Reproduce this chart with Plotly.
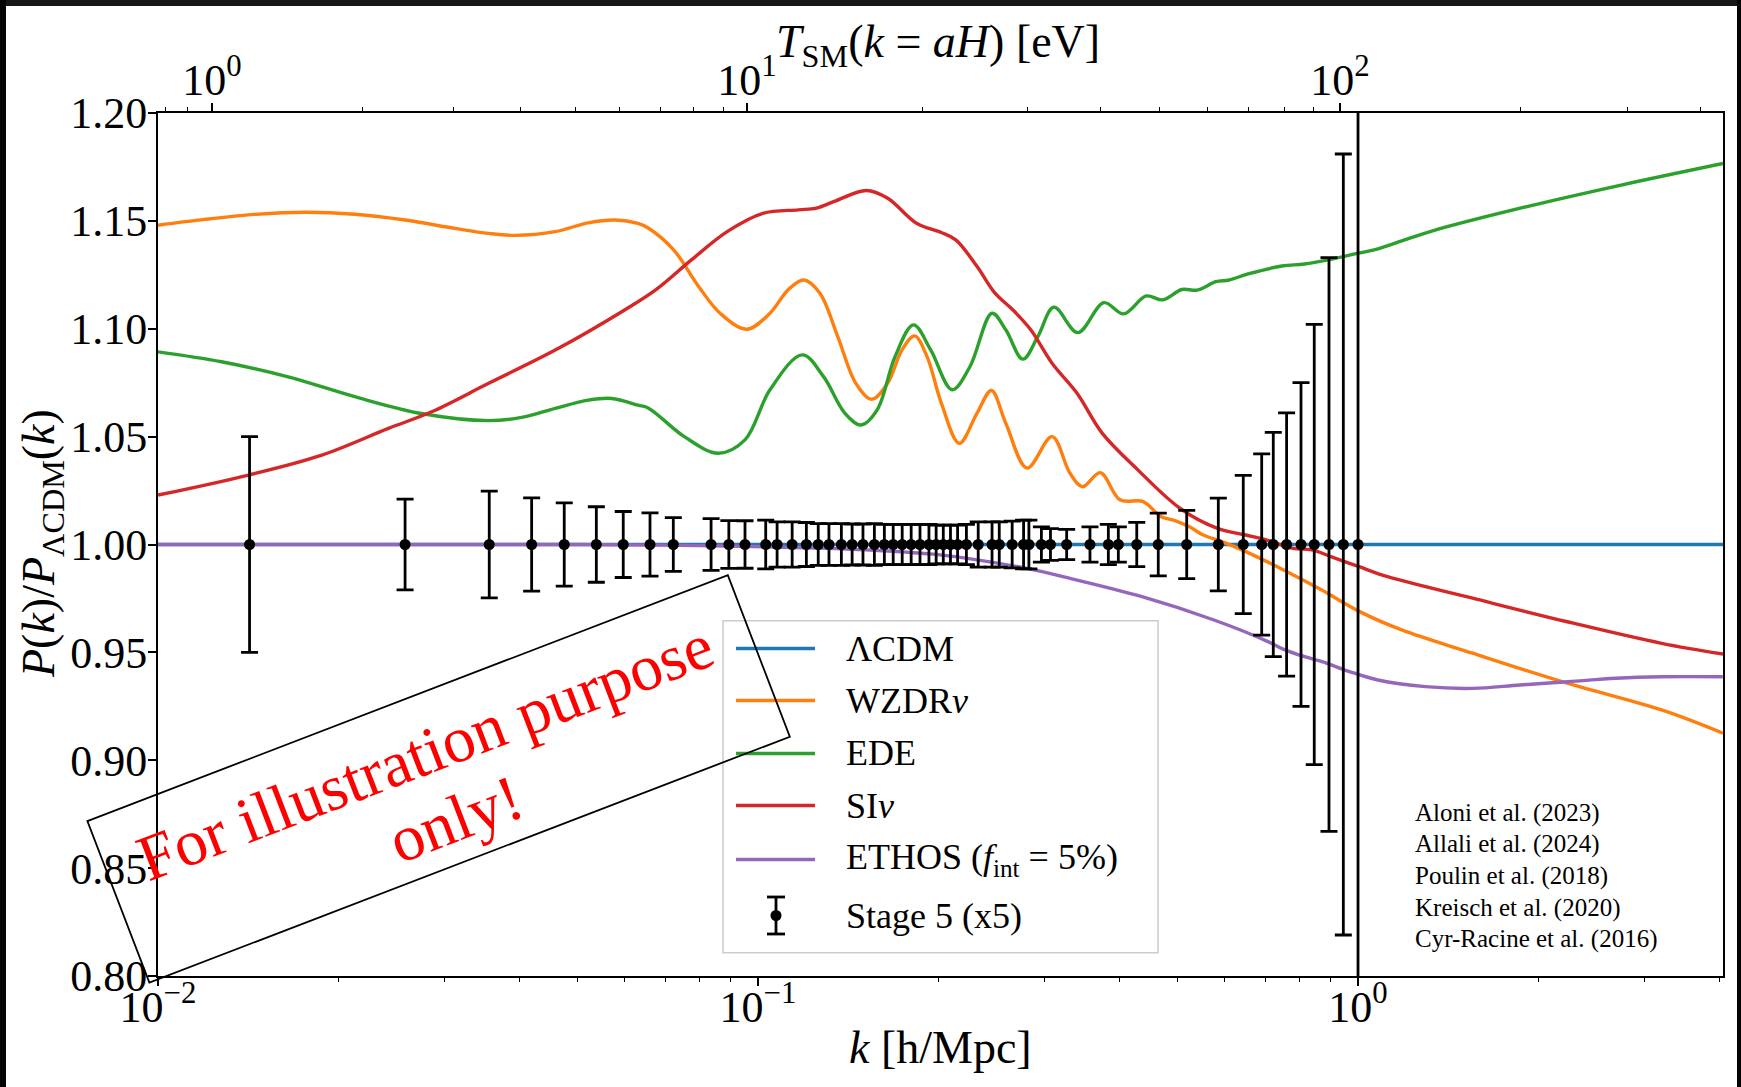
import math
import plotly.graph_objects as go

FONT = "Liberation Serif"

# ---------------- data ----------------
k_lcdm = [0.01, 4.06]
r_lcdm = [1.0, 1.0]

k_wzdr = [0.0100, 0.01197, 0.01452, 0.01758, 0.02128, 0.02582, 0.03126, 0.03556, 0.03936,
          0.04592, 0.05212, 0.05781, 0.0631, 0.0657, 0.07233, 0.07962, 0.08646, 0.09579,
          0.1047, 0.1122, 0.1192, 0.1268, 0.1358, 0.1455, 0.1547, 0.1645, 0.1738, 0.1824,
          0.1913, 0.2021, 0.2165, 0.2318, 0.2449, 0.2588, 0.2809, 0.3091, 0.3311, 0.3474,
          0.3720, 0.4012, 0.4385, 0.4689, 0.4951, 0.5229, 0.5521, 0.5934, 0.6500, 0.7515,
          0.8687, 1.0044, 1.1825, 1.5524, 2.2315, 3.2063, 4.0588]
r_wzdr = [1.148, 1.1507, 1.153, 1.154, 1.1531, 1.1504, 1.1465, 1.1442, 1.1433,
          1.145, 1.1491, 1.1504, 1.1488, 1.1466, 1.1366, 1.1196, 1.1072, 1.0998,
          1.1072, 1.118, 1.1226, 1.1165, 1.0964, 1.0748, 1.0673, 1.0748, 1.0902, 1.0967,
          1.0871, 1.0655, 1.0469, 1.0609, 1.0714, 1.0562, 1.0354, 1.050, 1.033, 1.0268,
          1.0333, 1.0207, 1.0199, 1.013, 1.0111, 1.0083, 1.0044, 1.0013, 0.9967, 0.9882,
          0.979, 0.969, 0.9604, 0.9496, 0.9357, 0.9233, 0.9125]

k_ede = [0.0100, 0.01276, 0.01648, 0.02128, 0.02748, 0.03556, 0.04036, 0.04592, 0.05212,
         0.05702, 0.0631, 0.0657, 0.07535, 0.08585, 0.09512, 0.1047, 0.1185, 0.1286,
         0.1396, 0.1485, 0.1580, 0.1692, 0.1816, 0.1940, 0.2107, 0.2256, 0.2455, 0.2588,
         0.2763, 0.2927, 0.3113, 0.3412, 0.3771, 0.4067, 0.4436, 0.4727, 0.5087, 0.5393,
         0.5797, 0.6098, 0.6557, 0.7467, 0.8145, 0.9013, 0.9972, 1.0720, 1.2034, 1.3318,
         1.9120, 2.7454, 4.0570]
r_ede = [1.0893, 1.0847, 1.0777, 1.0685, 1.0607, 1.0574, 1.0589, 1.0631, 1.0669,
         1.0677, 1.0646, 1.0632, 1.050, 1.0423, 1.0485, 1.0717, 1.0879, 1.0778,
         1.0608, 1.0554, 1.0624, 1.0871, 1.1018, 1.0902, 1.0717, 1.0825, 1.1072, 1.0995,
         1.0859, 1.0964, 1.110, 1.0982, 1.1121, 1.1069, 1.1152, 1.1134, 1.1182, 1.1179,
         1.1218, 1.1226, 1.1254, 1.1291, 1.130, 1.1322, 1.1349, 1.1368, 1.1414, 1.1454,
         1.1566, 1.1666, 1.1766]

k_sinu = [0.0100, 0.01416, 0.01875, 0.02421, 0.02858, 0.03556, 0.04592, 0.05929, 0.06753,
          0.07745, 0.08883, 0.1019, 0.1168, 0.1251, 0.1340, 0.1516, 0.1645, 0.1837,
          0.2021, 0.2136, 0.2318, 0.2483, 0.2660, 0.2848, 0.3091, 0.3402, 0.3746, 0.4296,
          0.5049, 0.5830, 0.6500, 0.6990, 0.7788, 0.8379, 0.9009, 1.0044, 1.1201, 1.5524,
          2.2315, 3.2063, 4.0588]
r_sinu = [1.0229, 1.0322, 1.0414, 1.0538, 1.0615, 1.0747, 1.0901, 1.1079, 1.118,
          1.1319, 1.145, 1.1535, 1.1551, 1.1559, 1.159, 1.1641, 1.1605, 1.1489,
          1.1446, 1.1412, 1.1288, 1.1165, 1.1087, 1.0995, 1.084, 1.0701, 1.0516, 1.0346,
          1.0168, 1.0075, 1.0044, 1.0024, 0.9982, 0.9975, 0.9944, 0.9897, 0.9851, 0.9751,
          0.9642, 0.9542, 0.9492]

k_ethos = [0.0100, 0.0501, 0.0794, 0.1259, 0.1585, 0.1995, 0.2317, 0.2818, 0.3311, 0.4365,
           0.5754, 0.7079, 0.7500, 0.7943, 0.8710, 0.9683, 1.0789, 1.2942, 1.5524, 1.8621,
           2.2387, 2.6915, 3.2063, 4.0551]
r_ethos = [1.0, 1.0, 0.9995, 0.9983, 0.9972, 0.9953, 0.9929, 0.9888, 0.9843, 0.9758,
           0.965, 0.955, 0.9515, 0.949, 0.9457, 0.9411, 0.9372, 0.9341, 0.9333, 0.9349,
           0.9364, 0.938, 0.9387, 0.9387]

k_stage5 = [0.01421, 0.02581, 0.03565, 0.04195, 0.04754, 0.05377, 0.05962, 0.06607, 0.07225,
            0.08352, 0.08941, 0.09513, 0.1030, 0.1076, 0.1140, 0.1204, 0.1260, 0.1313,
            0.1377, 0.1435, 0.1496, 0.1563, 0.1624, 0.1680, 0.1739, 0.1800, 0.1862, 0.1927,
            0.1981, 0.2036, 0.2093, 0.2151, 0.2225, 0.2328, 0.2455, 0.2524, 0.2652, 0.2771,
            0.2828, 0.2967, 0.3072, 0.3269, 0.3575, 0.3836, 0.3986, 0.4278, 0.4646, 0.5182,
            0.5850, 0.6438, 0.6910, 0.7224, 0.7603, 0.8035, 0.8454, 0.8946, 0.9452, 1.0]
err_stage5 = [0.050, 0.021, 0.0247, 0.0216, 0.0193, 0.0175, 0.0153, 0.0147, 0.0125,
              0.0120, 0.0111, 0.0110, 0.0113, 0.0105, 0.0105, 0.0102, 0.0097, 0.0097,
              0.0097, 0.0095, 0.0095, 0.0097, 0.0093, 0.0093, 0.0093, 0.0093, 0.0093, 0.0093,
              0.0090, 0.0090, 0.0090, 0.0090, 0.0093, 0.0105, 0.0105, 0.0105, 0.0108, 0.0113,
              0.0113, 0.0082, 0.0074, 0.0070, 0.0082, 0.0093, 0.0082, 0.0103, 0.0145, 0.0158,
              0.0215, 0.0320, 0.0420, 0.0520, 0.0610, 0.0750, 0.1020, 0.1330, 0.1810, 0.3500]
r_stage5 = [1.0] * len(k_stage5)

# bottom axis ticks
k_major_ticks = [0.01, 0.1, 1.0]
k_major_text = ["10<sup>\u22122</sup>", "10<sup>\u22121</sup>", "10<sup>0</sup>"]
k_minor_ticks = [0.02, 0.03, 0.04, 0.05, 0.06, 0.07, 0.08, 0.09,
                 0.2, 0.3, 0.4, 0.5, 0.6, 0.7, 0.8, 0.9, 2.0, 3.0, 4.0]

# top axis: T_SM values and the k where each falls
T_major = [1, 10, 100]
T_major_k = [0.0123, 0.09587, 0.9333]
T_major_text = ["10<sup>0</sup>", "10<sup>1</sup>", "10<sup>2</sup>"]
T_minor = [0.8, 0.9, 2, 3, 4, 5, 6, 7, 8, 9, 20, 30, 40, 50, 60, 70, 80, 90, 200, 300, 400]
T_minor_k = [0.0103, 0.0112, 0.02188, 0.03114, 0.04027, 0.04955, 0.05888, 0.06866, 0.0782,
             0.08776, 0.1877, 0.2808, 0.3729, 0.4677, 0.5623, 0.6556, 0.7554, 0.8414,
             1.869, 2.808, 3.729]

y_ticks = [0.80, 0.85, 0.90, 0.95, 1.00, 1.05, 1.10, 1.15, 1.20]

series_names = ["\u039bCDM", "WZDR<i>\u03bd</i>", "EDE", "SI<i>\u03bd</i>",
                "ETHOS (<i>f</i><sub>int</sub> = 5%)"]
series_colors = ["#1f77b4", "#ff7f0e", "#2ca02c", "#d62728", "#9467bd"]
stage5_name = "Stage 5 (x5)"

x_title = "<i>k</i> [h/Mpc]"
x2_title = "<i>T</i><sub>SM</sub>(<i>k</i> = <i>aH</i>) [eV]"
y_title = "<i>P</i>(<i>k</i>)/<i>P</i><sub>\u039bCDM</sub>(<i>k</i>)"

citations = ["Aloni et al. (2023)", "Allali et al. (2024)", "Poulin et al. (2018)",
             "Kreisch et al. (2020)", "Cyr-Racine et al. (2016)"]

# ---------------- layout geometry (pixels) ----------------
W, H = 1741, 1087
L, R, T, B = 158, 1723, 113, 976


def px(x):
    return (x - L) / (R - L)


def py(y):
    return (B - y) / (B - T)


fig = go.Figure()

curves = [(k_lcdm, r_lcdm), (k_wzdr, r_wzdr), (k_ede, r_ede), (k_sinu, r_sinu), (k_ethos, r_ethos)]
for i, (kk, rr) in enumerate(curves):
    fig.add_trace(go.Scatter(
        x=kk, y=rr, mode="lines", name=series_names[i],
        line=dict(color=series_colors[i], width=3.4,
                  shape="linear" if i == 0 else "spline", smoothing=1.0),
        showlegend=False, hoverinfo="skip"))

fig.add_trace(go.Scatter(
    x=k_stage5, y=r_stage5, mode="markers", name=stage5_name,
    marker=dict(color="black", size=11),
    error_y=dict(type="data", array=err_stage5, color="black", thickness=2.8, width=8.5),
    showlegend=False, hoverinfo="skip", cliponaxis=True))

# empty trace to hold the top axis
fig.add_trace(go.Scatter(x=[], y=[], xaxis="x2", yaxis="y", showlegend=False, hoverinfo="skip"))

tickfont = dict(family=FONT, size=44, color="black")
titlefont = dict(family=FONT, size=46, color="black")

fig.update_layout(
    width=W, height=H,
    margin=dict(l=L, r=W - R, t=T, b=H - B, pad=0),
    plot_bgcolor="white", paper_bgcolor="white",
    showlegend=False,
    font=dict(family=FONT, color="black"),
    xaxis=dict(type="log", range=[-2, 0.6083],
               tickmode="array", tickvals=k_major_ticks, ticktext=k_major_text,
               ticks="outside", ticklen=8, tickwidth=1.8, tickcolor="black",
               ticklabelstandoff=-17,
               showline=True, linecolor="black", linewidth=1.8, mirror=False,
               showgrid=False, zeroline=False, tickfont=tickfont,
               minor=dict(tickmode="array", tickvals=k_minor_ticks, ticks="outside",
                          ticklen=4, tickwidth=1.3, tickcolor="black", showgrid=False)),
    xaxis2=dict(type="log", range=[-2, 0.6083], overlaying="x", side="top", anchor="y",
                tickmode="array", tickvals=T_major_k, ticktext=T_major_text,
                ticks="outside", ticklen=8, tickwidth=1.8, tickcolor="black",
                ticklabelstandoff=-9,
                showline=True, linecolor="black", linewidth=1.8,
                showgrid=False, zeroline=False, tickfont=tickfont,
                minor=dict(tickmode="array", tickvals=T_minor_k, ticks="outside",
                           ticklen=4, tickwidth=1.3, tickcolor="black", showgrid=False)),
    yaxis=dict(range=[0.8, 1.2], tickmode="array", tickvals=y_ticks, tickformat=".2f",
               ticks="outside", ticklen=8, tickwidth=1.8, tickcolor="black",
               ticklabelstandoff=-8,
               showline=True, linecolor="black", linewidth=1.8, mirror=True,
               showgrid=False, zeroline=False, tickfont=tickfont),
)

shapes = []
annotations = []

# ---- axis titles ----
annotations.append(dict(xref="paper", yref="paper", x=px(940.5), y=py(1047), text=x_title,
                        showarrow=False, xanchor="center", yanchor="middle", font=titlefont))
annotations.append(dict(xref="paper", yref="paper", x=px(938), y=py(45), text=x2_title,
                        showarrow=False, xanchor="center", yanchor="middle", font=titlefont))
annotations.append(dict(xref="paper", yref="paper", x=px(42), y=py(544), text=y_title,
                        showarrow=False, xanchor="center", yanchor="middle", textangle=-90,
                        font=titlefont))

# ---- manual legend ----
shapes.append(dict(type="rect", xref="paper", yref="paper", layer="above",
                   x0=px(723), x1=px(1158), y0=py(952.7), y1=py(620.7),
                   line=dict(color="#cccccc", width=1.5), fillcolor="rgba(255,255,255,0.8)"))
row_y = [648.5, 700.5, 753.5, 805.5, 859.5]
for i in range(5):
    shapes.append(dict(type="line", xref="paper", yref="paper", layer="above",
                       x0=px(736), x1=px(815), y0=py(row_y[i]), y1=py(row_y[i]),
                       line=dict(color=series_colors[i], width=3.4)))
    annotations.append(dict(xref="paper", yref="paper", x=px(844), y=py(row_y[i]),
                            text=series_names[i], showarrow=False, xanchor="left",
                            yanchor="middle", font=dict(family=FONT, size=36, color="black")))
# errorbar legend symbol
ex, ey, eh, ec = 776, 915.5, 18.5, 9
shapes.append(dict(type="line", xref="paper", yref="paper", layer="above",
                   x0=px(ex), x1=px(ex), y0=py(ey - eh), y1=py(ey + eh),
                   line=dict(color="black", width=2.8)))
for yy in (ey - eh, ey + eh):
    shapes.append(dict(type="line", xref="paper", yref="paper", layer="above",
                       x0=px(ex - ec), x1=px(ex + ec), y0=py(yy), y1=py(yy),
                       line=dict(color="black", width=2.8)))
shapes.append(dict(type="circle", xref="paper", yref="paper", layer="above",
                   x0=px(ex - 5.5), x1=px(ex + 5.5), y0=py(ey + 5.5), y1=py(ey - 5.5),
                   line=dict(color="black", width=0), fillcolor="black"))
annotations.append(dict(xref="paper", yref="paper", x=px(844), y=py(ey),
                        text=stage5_name, showarrow=False, xanchor="left", yanchor="middle",
                        font=dict(family=FONT, size=36, color="black")))

# ---- rotated "for illustration" box ----
ang = math.radians(21.0)
cx, cy, bw, bh = 438.6, 778.9, 686.0, 173.0
ux, uy = math.cos(ang), -math.sin(ang)
vx, vy = math.sin(ang), math.cos(ang)
corners = []
for su, sv in ((-1, -1), (1, -1), (1, 1), (-1, 1)):
    X = cx + su * bw / 2 * ux + sv * bh / 2 * vx
    Y = cy + su * bw / 2 * uy + sv * bh / 2 * vy
    corners.append((px(X), py(Y)))
path = "M " + " L ".join(f"{a:.5f},{b:.5f}" for a, b in corners) + " Z"
shapes.append(dict(type="path", path=path, xref="paper", yref="paper", layer="above",
                   line=dict(color="black", width=1.8)))
annotations.append(dict(xref="paper", yref="paper", x=px(425), y=py(752),
                        text="For illustration purpose", showarrow=False, textangle=-21,
                        xanchor="center", yanchor="middle",
                        font=dict(family=FONT, size=65, color="#ff0000")))
annotations.append(dict(xref="paper", yref="paper", x=px(455), y=py(819),
                        text="only!", showarrow=False, textangle=-21,
                        xanchor="center", yanchor="middle",
                        font=dict(family=FONT, size=65, color="#ff0000")))

# ---- citations ----
cit_y = [812.5, 844, 876, 907.5, 939]
for txt, yy in zip(citations, cit_y):
    annotations.append(dict(xref="paper", yref="paper", x=px(1413), y=py(yy), text=txt,
                            showarrow=False, xanchor="left", yanchor="middle",
                            font=dict(family=FONT, size=25, color="black")))

# ---- dark frame edges of the picture ----
frame = "#161616"
shapes.append(dict(type="rect", xref="paper", yref="paper", layer="above",
                   x0=px(-5), x1=px(W + 5), y0=py(6), y1=py(-5), line=dict(width=0), fillcolor=frame))
shapes.append(dict(type="rect", xref="paper", yref="paper", layer="above",
                   x0=px(-5), x1=px(6), y0=py(H + 5), y1=py(-5), line=dict(width=0), fillcolor="#050505"))
shapes.append(dict(type="rect", xref="paper", yref="paper", layer="above",
                   x0=px(1737), x1=px(W + 5), y0=py(H + 5), y1=py(-5), line=dict(width=0), fillcolor="#050505"))

fig.update_layout(shapes=shapes, annotations=annotations)

fig.write_html("out.html", config={"displayModeBar": False})
